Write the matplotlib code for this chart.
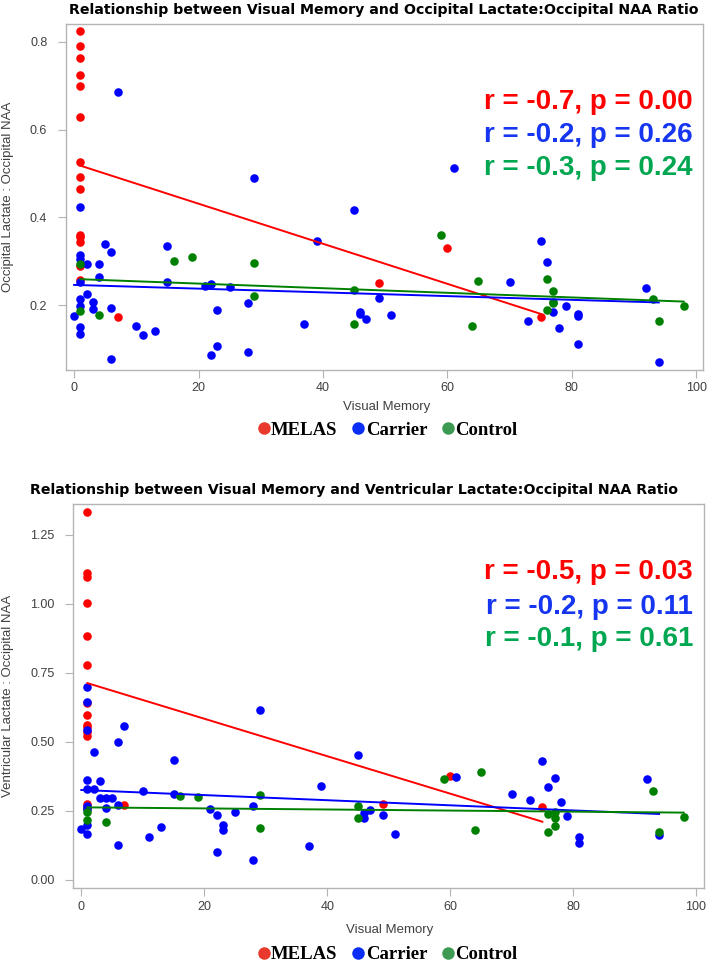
import matplotlib

matplotlib.use("Agg")
import matplotlib.pyplot as plt  # noqa: E402
from matplotlib.lines import Line2D  # noqa: E402

# ---- data ----
groups = ["MELAS", "Carrier", "Control"]

# top panel: occipital lactate / occipital NAA
occ_melas_x = [1, 1, 1, 1, 1, 1, 1, 1, 1, 1, 1, 1, 1, 1, 7, 49, 60, 75]
occ_melas_y = [0.824, 0.790, 0.763, 0.725, 0.699, 0.629, 0.526, 0.493, 0.465,
               0.360, 0.355, 0.343, 0.290, 0.257, 0.172, 0.250, 0.331, 0.172]
occ_carrier_x = [1, 7, 29, 45, 61, 5, 15, 6, 1, 1, 2, 4, 4, 1, 15, 21, 22, 25,
                 2, 1, 3, 1, 3, 6, 23, 28, 0, 46, 46, 1, 1, 10, 11, 13, 37, 23,
                 22, 28, 6, 39, 75, 76, 70, 92, 49, 79, 77, 81, 81, 51, 47, 73,
                 78, 81, 94]
occ_carrier_y = [0.424, 0.686, 0.490, 0.416, 0.512, 0.339, 0.334, 0.321, 0.315,
                 0.306, 0.293, 0.293, 0.265, 0.253, 0.253, 0.244, 0.248, 0.241,
                 0.225, 0.214, 0.208, 0.197, 0.191, 0.193, 0.188, 0.204, 0.176,
                 0.185, 0.180, 0.149, 0.133, 0.152, 0.131, 0.141, 0.157, 0.106,
                 0.087, 0.092, 0.077, 0.347, 0.347, 0.299, 0.252, 0.240, 0.217,
                 0.199, 0.185, 0.179, 0.175, 0.178, 0.169, 0.163, 0.148, 0.112,
                 0.070]
occ_control_x = [16, 19, 29, 1, 45, 29, 1, 4, 45, 59, 76, 65, 77, 77, 77, 93,
                 98, 76, 64, 94]
occ_control_y = [0.301, 0.309, 0.297, 0.293, 0.235, 0.220, 0.187, 0.178, 0.157,
                 0.360, 0.260, 0.254, 0.233, 0.208, 0.204, 0.213, 0.198, 0.189,
                 0.152, 0.163]
# fitted lines (end points as drawn)
occ_fit_x = {"MELAS": [1, 75], "Carrier": [0, 94], "Control": [1, 98]}
occ_fit_y = {"MELAS": [0.518, 0.180], "Carrier": [0.246, 0.206],
             "Control": [0.259, 0.208]}
occ_stats = ["r = -0.7, p = 0.00", "r = -0.2, p = 0.26", "r = -0.3, p = 0.24"]

# bottom panel: ventricular lactate / occipital NAA
ven_melas_x = [1, 1, 1, 1, 1, 1, 1, 1, 1, 1, 1, 1, 1, 1, 7, 49, 60, 75]
ven_melas_y = [1.331, 1.111, 1.098, 1.004, 0.882, 0.779, 0.640, 0.598, 0.562,
               0.553, 0.537, 0.522, 0.275, 0.262, 0.273, 0.275, 0.377, 0.263]
ven_carrier_x = [1, 1, 29, 1, 7, 6, 2, 15, 45, 1, 3, 1, 2, 10, 15, 3, 4, 5, 39,
                 6, 1, 4, 21, 28, 25, 22, 1, 23, 23, 13, 0, 1, 11, 6, 37, 22,
                 28, 61, 75, 77, 76, 70, 73, 78, 92, 46, 46, 47, 49, 51, 79, 81,
                 81, 94, 1]
ven_carrier_y = [0.700, 0.646, 0.615, 0.543, 0.556, 0.499, 0.464, 0.434, 0.453,
                 0.361, 0.357, 0.330, 0.328, 0.322, 0.312, 0.298, 0.296, 0.296,
                 0.341, 0.273, 0.267, 0.261, 0.257, 0.269, 0.248, 0.234, 0.199,
                 0.199, 0.181, 0.192, 0.185, 0.168, 0.157, 0.127, 0.123, 0.103,
                 0.072, 0.372, 0.430, 0.368, 0.338, 0.310, 0.289, 0.284, 0.365,
                 0.242, 0.223, 0.254, 0.234, 0.165, 0.231, 0.157, 0.134, 0.164,
                 0.258]
ven_control_x = [16, 19, 29, 45, 45, 1, 1, 4, 29, 59, 65, 93, 76, 77, 77, 76,
                 64, 94, 98, 77]
ven_control_y = [0.306, 0.302, 0.307, 0.268, 0.223, 0.248, 0.217, 0.210, 0.188,
                 0.365, 0.391, 0.322, 0.239, 0.223, 0.196, 0.173, 0.181, 0.173,
                 0.229, 0.245]
ven_fit_x = {"MELAS": [1, 75], "Carrier": [0, 94], "Control": [1, 98]}
ven_fit_y = {"MELAS": [0.713, 0.211], "Carrier": [0.326, 0.239],
             "Control": [0.263, 0.244]}
ven_stats = ["r = -0.5, p = 0.03", "r = -0.2, p = 0.11", "r = -0.1, p = 0.61"]

POINT_COLORS = {"MELAS": "#ff0000", "Carrier": "#0000ff", "Control": "#008000"}
STAT_COLORS = ["#ff0000", "#1535f0", "#00a650"]
LEGEND_COLORS = {"MELAS": "#e8392c", "Carrier": "#0a2ef5", "Control": "#3d9a52"}
FRAME = "#b4b4b4"
TICKTXT = "#404040"


def panel(fig, rect, pts, fit_x, fit_y, stats, ylabel, xlim, ylim,
          yticks, yfmt, stat_pos, label_pos):
    ax = fig.add_axes(rect)
    for g in groups:
        xs, ys = pts[g]
        ax.scatter(xs, ys, s=38, color=POINT_COLORS[g], linewidths=0, zorder=2)
    for g in groups:
        ax.plot(fit_x[g], fit_y[g], color=POINT_COLORS[g], lw=1.4, zorder=3)
    ax.set_xlim(*xlim)
    ax.set_ylim(*ylim)
    ax.set_xticks([0, 20, 40, 60, 80, 100])
    ax.set_yticks(yticks)
    ax.set_yticklabels([yfmt.format(v) for v in yticks])
    for sp in ax.spines.values():
        sp.set_color(FRAME)
        sp.set_linewidth(1.0)
    ax.tick_params(direction="out", length=5.5, color=FRAME,
                   labelcolor=TICKTXT, labelsize=9)
    ax.tick_params(axis="y", pad=8)
    for lab in ax.get_xticklabels() + ax.get_yticklabels():
        lab.set_fontfamily("Liberation Sans")
    ax.set_xlabel("Visual Memory", fontsize=9.5, color=TICKTXT,
                  family="Liberation Sans", va="center")
    ax.set_ylabel(ylabel, fontsize=9.5, color=TICKTXT,
                  family="Liberation Sans", va="center")
    (xlx, xly), (ylx, yly) = label_pos
    ax.xaxis.set_label_coords(xlx, xly)
    ax.yaxis.set_label_coords(ylx, yly)
    x0, ys = stat_pos
    for txt, col, yy in zip(stats, STAT_COLORS, ys):
        ax.text(x0, yy, txt, transform=ax.transAxes, ha="right", va="center",
                color=col, fontsize=20, fontweight="bold",
                family="Liberation Sans")
    return ax


def legend(fig, y):
    handles = [Line2D([], [], ls="none", marker="o", markersize=9,
                      markerfacecolor=LEGEND_COLORS[g], markeredgewidth=0)
               for g in groups]
    fig.legend(handles, groups, loc="center", bbox_to_anchor=(0.543, y),
               ncol=3, frameon=False, handletextpad=-0.2, columnspacing=0.5,
               handlelength=1.2,
               prop={"family": "Liberation Serif", "weight": "bold",
                     "size": 13.5})


fig = plt.figure(figsize=(7.09, 9.63), dpi=100)

panel(fig, [0.0931, 0.6158, 0.8984, 0.3593],
      {"MELAS": (occ_melas_x, occ_melas_y),
       "Carrier": (occ_carrier_x, occ_carrier_y),
       "Control": (occ_control_x, occ_control_y)},
      occ_fit_x, occ_fit_y, occ_stats,
      "Occipital Lactate : Occipital NAA",
      (-1.3, 101.1), (0.052, 0.841), [0.2, 0.4, 0.6, 0.8], "{:.1f}",
      (0.984, [0.775, 0.679, 0.583]),
      ((0.504, -0.107), (-0.091, 0.5)))
fig.text(384 / 709, 1 - 10 / 963,
         "Relationship between Visual Memory and Occipital Lactate:Occipital NAA Ratio",
         ha="center", va="center", fontsize=10.2, fontweight="bold")
legend(fig, 0.5535)

panel(fig, [0.1034, 0.0776, 0.8900, 0.3991],
      {"MELAS": (ven_melas_x, ven_melas_y),
       "Carrier": (ven_carrier_x, ven_carrier_y),
       "Control": (ven_control_x, ven_control_y)},
      ven_fit_x, ven_fit_y, ven_stats,
      "Ventricular Lactate : Occipital NAA",
      (-1.3, 101.35), (-0.030, 1.362), [0.0, 0.25, 0.5, 0.75, 1.0, 1.25],
      "{:.2f}", (0.982, [0.824, 0.733, 0.648]),
      ((0.502, -0.1085), (-0.1035, 0.5)))
fig.text(354 / 709, 1 - 489.5 / 963,
         "Relationship between Visual Memory and Ventricular Lactate:Occipital NAA Ratio",
         ha="center", va="center", fontsize=10.2, fontweight="bold")
legend(fig, 0.0085)

fig.savefig("out.png", dpi=100)
